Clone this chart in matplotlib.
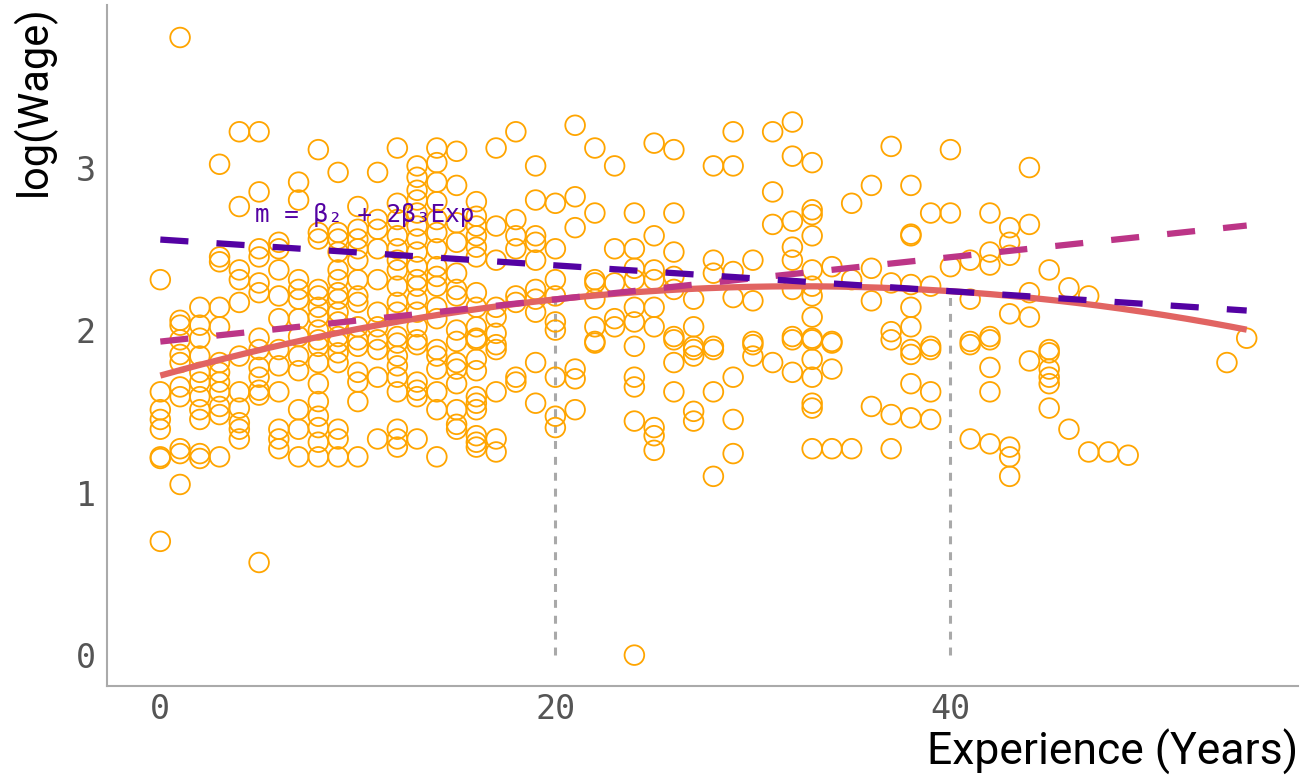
import numpy as np
import matplotlib
matplotlib.use('Agg')
import matplotlib.pyplot as plt

# log(wage) values read per experience year
lw_00 = [2.31, 1.62, 1.51, 1.45, 1.39, 1.22, 1.21, 0.70]
lw_01 = [3.80, 2.06, 2.03, 1.94, 1.85, 1.80, 1.65, 1.59, 1.27, 1.24, 1.05]
lw_02 = [2.14, 2.03, 1.95, 1.84, 1.74, 1.68, 1.59, 1.51, 1.45, 1.24, 1.21]
lw_03 = [3.02, 2.45, 2.42, 2.14, 2.02, 1.80, 1.74, 1.68, 1.62, 1.53, 1.48, 1.22]
lw_04 = [3.22, 2.76, 2.37, 2.31, 2.17, 1.84, 1.62, 1.52, 1.43, 1.39, 1.33]
lw_05 = [3.22, 2.85, 2.50, 2.45, 2.29, 2.23, 1.95, 1.88, 1.77, 1.71, 1.63, 1.60, 0.57]
lw_06 = [2.54, 2.50, 2.37, 2.21, 2.07, 1.88, 1.78, 1.62, 1.39, 1.33, 1.27]
lw_07 = [2.91, 2.80, 2.31, 2.25, 2.19, 2.07, 1.96, 1.84, 1.75, 1.51, 1.39, 1.22]
lw_08 = [3.11, 2.60, 2.56, 2.25, 2.21, 2.14, 2.08, 2.00, 1.94, 1.90, 1.80, 1.67,
         1.56, 1.47, 1.40, 1.31, 1.22]
lw_09 = [2.97, 2.60, 2.56, 2.48, 2.37, 2.31, 2.23, 2.19, 2.11, 2.05, 1.96, 1.92,
         1.86, 1.80, 1.39, 1.33, 1.22]
lw_10 = [2.76, 2.62, 2.56, 2.50, 2.43, 2.31, 2.21, 2.17, 2.02, 1.94, 1.90, 1.74,
         1.68, 1.56, 1.22]
lw_11 = [2.97, 2.68, 2.62, 2.50, 2.31, 2.11, 2.02, 1.94, 1.88, 1.71, 1.33]
lw_12 = [3.12, 2.78, 2.68, 2.58, 2.50, 2.43, 2.37, 2.27, 2.17, 2.11, 1.96, 1.92,
         1.84, 1.78, 1.71, 1.62, 1.39, 1.33, 1.28]
lw_13 = [3.01, 2.94, 2.86, 2.80, 2.72, 2.64, 2.56, 2.48, 2.39, 2.31, 2.27, 2.19,
         2.11, 2.02, 1.94, 1.91, 1.68, 1.63, 1.59, 1.33]
lw_14 = [3.12, 3.03, 2.91, 2.79, 2.68, 2.60, 2.50, 2.39, 2.33, 2.27, 2.14, 2.07,
         1.88, 1.84, 1.76, 1.62, 1.51, 1.22]
lw_15 = [3.10, 2.89, 2.66, 2.54, 2.35, 2.25, 2.21, 2.00, 1.93, 1.80, 1.76, 1.67,
         1.51, 1.42, 1.39]
lw_16 = [2.79, 2.70, 2.64, 2.58, 2.51, 2.45, 2.23, 2.14, 2.02, 1.95, 1.94, 1.82,
         1.75, 1.59, 1.55, 1.51, 1.35, 1.31, 1.28]
lw_17 = [3.12, 2.64, 2.43, 2.14, 2.08, 1.98, 1.91, 1.88, 1.62, 1.33, 1.25]
lw_18 = [3.22, 2.68, 2.58, 2.50, 2.21, 2.17, 1.71, 1.68]
lw_19 = [3.01, 2.80, 2.58, 2.54, 2.43, 2.25, 2.19, 2.11, 1.80, 1.55]
lw_20 = [2.78, 2.50, 2.31, 2.21, 2.05, 2.00, 1.71, 1.47, 1.40]
lw_21 = [3.26, 2.82, 2.63, 1.76, 1.70, 1.51]
lw_22 = [3.12, 2.72, 2.31, 2.29, 2.19, 2.02, 1.93, 1.92]
lw_23 = [3.01, 2.50, 2.29, 2.07, 2.02]
lw_24 = [2.72, 2.50, 2.38, 2.31, 2.14, 2.05, 1.90, 1.71, 1.65, 1.44, 0.00]
lw_25 = [3.15, 2.58, 2.37, 2.31, 2.14, 2.02, 1.40, 1.35, 1.26]
lw_26 = [3.11, 2.72, 2.48, 2.33, 2.25, 1.96, 1.94, 1.80, 1.62]
lw_27 = [2.19, 2.02, 1.90, 1.88, 1.84, 1.50, 1.44]
lw_28 = [3.01, 2.43, 2.35, 1.90, 1.88, 1.62, 1.10]
lw_29 = [3.22, 3.01, 2.36, 2.20, 1.71, 1.45, 1.24]
lw_30 = [2.43, 2.18, 1.93, 1.91, 1.84]
lw_31 = [3.22, 2.85, 2.65, 1.80]
lw_32 = [3.28, 3.07, 2.67, 2.51, 2.43, 2.25, 1.96, 1.94, 1.74]
lw_33 = [3.03, 2.74, 2.71, 2.58, 2.37, 2.27, 2.21, 2.08, 1.95, 1.94, 1.82, 1.71,
         1.55, 1.52, 1.27]
lw_34 = [2.39, 1.93, 1.92, 1.76, 1.27]
lw_35 = [2.78, 2.31, 1.27]
lw_36 = [2.89, 2.38, 2.18, 1.53]
lw_37 = [3.13, 2.29, 1.99, 1.94, 1.48, 1.27]
lw_38 = [2.89, 2.59, 2.58, 2.28, 2.14, 2.02, 1.88, 1.85, 1.67, 1.46]
lw_39 = [2.72, 2.27, 1.90, 1.88, 1.62, 1.45]
lw_40 = [3.11, 2.72, 2.39]
lw_41 = [2.43, 2.19, 1.93, 1.91, 1.33]
lw_42 = [2.72, 2.48, 2.40, 1.96, 1.94, 1.77, 1.62, 1.30]
lw_43 = [2.63, 2.54, 2.46, 2.10, 1.28, 1.22, 1.10]
lw_44 = [3.00, 2.65, 2.23, 2.08, 1.81]
lw_45 = [2.37, 1.88, 1.86, 1.76, 1.71, 1.67, 1.52]
lw_46 = [2.26, 1.39]
lw_47 = [2.21, 1.25]
lw_48 = [1.25]
lw_49 = [1.23]
lw_54 = [1.80]
lw_55 = [1.95]

# quadratic fit: log(wage) = b1 + b2*Exp + b3*Exp^2
beta = [1.72, 0.0339, -0.000523]
tangent_at = [20, 40]
exp_range = [0, 55]
x_ticks = [0, 20, 40]
y_ticks = [0, 1, 2, 3]

groups = {0: lw_00, 1: lw_01, 2: lw_02, 3: lw_03, 4: lw_04, 5: lw_05, 6: lw_06,
          7: lw_07, 8: lw_08, 9: lw_09, 10: lw_10, 11: lw_11, 12: lw_12,
          13: lw_13, 14: lw_14, 15: lw_15, 16: lw_16, 17: lw_17, 18: lw_18,
          19: lw_19, 20: lw_20, 21: lw_21, 22: lw_22, 23: lw_23, 24: lw_24,
          25: lw_25, 26: lw_26, 27: lw_27, 28: lw_28, 29: lw_29, 30: lw_30,
          31: lw_31, 32: lw_32, 33: lw_33, 34: lw_34, 35: lw_35, 36: lw_36,
          37: lw_37, 38: lw_38, 39: lw_39, 40: lw_40, 41: lw_41, 42: lw_42,
          43: lw_43, 44: lw_44, 45: lw_45, 46: lw_46, 47: lw_47, 48: lw_48,
          49: lw_49, 54: lw_54, 55: lw_55}
exper = np.concatenate([[k] * len(v) for k, v in groups.items()])
lwage = np.concatenate([v for v in groups.values()])

def fit(x):
    return beta[0] + beta[1] * x + beta[2] * x ** 2

def slope(x):
    return beta[1] + 2 * beta[2] * x

fig = plt.figure(figsize=(13.08, 7.8), dpi=100)
ax = fig.add_axes([0.0818, 0.1205, 0.9106, 0.8731])

# vertical guides at the tangent points
for t in tangent_at:
    ax.plot([t, t], [0, fit(t)], color='#A9A9A9', lw=2.2, dashes=(2.6, 2.6), zorder=1)

ax.scatter(exper, lwage, s=200, facecolors='none', edgecolors='orange',
           linewidths=1.3, zorder=2)

xs = np.linspace(exp_range[0], exp_range[1], 200)
ax.plot(xs, fit(xs), color='#E16462', lw=4.5, solid_capstyle='butt', zorder=3)

tan_colors = ['#BC3587', '#5402A3']
for t, c in zip(tangent_at, tan_colors):
    ax.plot(xs, fit(t) + slope(t) * (xs - t), color=c, lw=4.5,
            dashes=(4.5, 4.5), solid_capstyle='butt', zorder=4)

ax.text(4.8, 2.71, 'm = β₂ + 2β₃Exp', color='#5402A3', fontsize=17.5,
        family='DejaVu Sans Mono', va='center', ha='left', zorder=5)

ax.set_xlim(-2.7, 57.6)
ax.set_ylim(-0.19, 4.0)
ax.set_xticks(x_ticks)
ax.set_yticks(y_ticks)
ax.tick_params(length=0, labelsize=24, labelcolor='#555555')
ax.tick_params(axis='x', pad=5)
ax.tick_params(axis='y', pad=8)
for lab in ax.get_xticklabels() + ax.get_yticklabels():
    lab.set_family('DejaVu Sans Mono')

for s in ['top', 'right']:
    ax.spines[s].set_visible(False)
for s in ['left', 'bottom']:
    ax.spines[s].set_color('#AAAAAA')
    ax.spines[s].set_linewidth(1.5)

ax.set_xlabel('Experience (Years)', fontsize=32, loc='right', labelpad=2,
              family='Roboto')
ax.set_ylabel('log(Wage)', fontsize=30, loc='top', labelpad=14,
              family='Roboto')

fig.savefig('out.png', dpi=100)
